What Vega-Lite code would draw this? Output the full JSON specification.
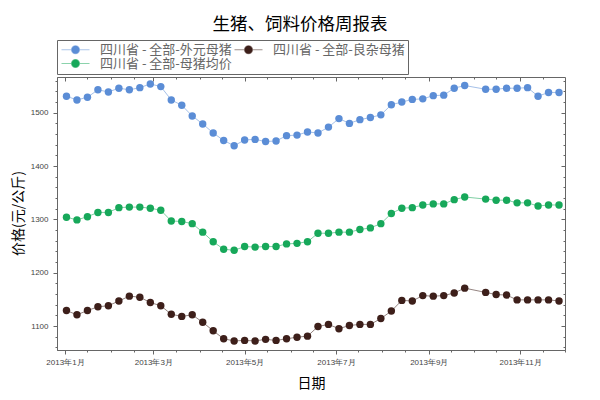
{
  "$schema": "https://vega.github.io/schema/vega-lite/v6.json",
  "width": 508,
  "height": 273,
  "autosize": {"type": "none"},
  "padding": {"left": 57, "top": 77, "right": 35, "bottom": 50},
  "background": "white",
  "title": {"text": "生猪、饲料价格周报表", "fontSize": 17.5, "font": "Noto Sans CJK SC", "fontWeight": "normal", "color": "#000", "offset": 10, "baseline": "bottom", "dx": -11, "dy": 22, "anchor": "middle"},
  "config": {
    "view": {"stroke": "#666", "strokeWidth": 1},
    "axis": {"domainColor": "#666", "tickColor": "#666", "labelColor": "#444", "labelFont": "Liberation Sans", "labelFontSize": 8, "grid": false, "labelOverlap": false, "labelBound": false, "labelFlush": false, "titleFont": "Noto Sans CJK SC", "titleFontWeight": "normal", "titleColor": "#000", "titleFontSize": 14}
  },
  "data": {"values": [
    {"date":"2013-01-02","a":1531,"b":1129,"c":1304},
    {"date":"2013-01-09","a":1524,"b":1121,"c":1299},
    {"date":"2013-01-16","a":1529,"b":1129,"c":1305},
    {"date":"2013-01-23","a":1543,"b":1136,"c":1313},
    {"date":"2013-01-30","a":1539,"b":1138,"c":1313},
    {"date":"2013-02-06","a":1546,"b":1147,"c":1322},
    {"date":"2013-02-13","a":1543,"b":1156,"c":1323},
    {"date":"2013-02-20","a":1547,"b":1154,"c":1323},
    {"date":"2013-02-27","a":1554,"b":1144,"c":1321},
    {"date":"2013-03-06","a":1549,"b":1138,"c":1317},
    {"date":"2013-03-13","a":1524,"b":1122,"c":1297},
    {"date":"2013-03-20","a":1514,"b":1118,"c":1296},
    {"date":"2013-03-27","a":1494,"b":1121,"c":1292},
    {"date":"2013-04-03","a":1479,"b":1107,"c":1276},
    {"date":"2013-04-10","a":1462,"b":1091,"c":1258},
    {"date":"2013-04-17","a":1448,"b":1076,"c":1244},
    {"date":"2013-04-24","a":1438,"b":1072,"c":1242},
    {"date":"2013-05-01","a":1449,"b":1073,"c":1249},
    {"date":"2013-05-08","a":1450,"b":1072,"c":1248},
    {"date":"2013-05-15","a":1446,"b":1075,"c":1249},
    {"date":"2013-05-22","a":1447,"b":1073,"c":1249},
    {"date":"2013-05-29","a":1457,"b":1076,"c":1254},
    {"date":"2013-06-05","a":1458,"b":1079,"c":1255},
    {"date":"2013-06-12","a":1464,"b":1081,"c":1258},
    {"date":"2013-06-19","a":1462,"b":1099,"c":1274},
    {"date":"2013-06-26","a":1473,"b":1103,"c":1274},
    {"date":"2013-07-03","a":1489,"b":1095,"c":1276},
    {"date":"2013-07-10","a":1480,"b":1101,"c":1276},
    {"date":"2013-07-17","a":1487,"b":1103,"c":1281},
    {"date":"2013-07-24","a":1491,"b":1103,"c":1284},
    {"date":"2013-07-31","a":1496,"b":1114,"c":1292},
    {"date":"2013-08-07","a":1515,"b":1128,"c":1311},
    {"date":"2013-08-14","a":1520,"b":1148,"c":1321},
    {"date":"2013-08-21","a":1525,"b":1147,"c":1322},
    {"date":"2013-08-28","a":1526,"b":1157,"c":1327},
    {"date":"2013-09-04","a":1532,"b":1156,"c":1329},
    {"date":"2013-09-11","a":1533,"b":1157,"c":1329},
    {"date":"2013-09-18","a":1546,"b":1162,"c":1337},
    {"date":"2013-09-25","a":1551,"b":1171,"c":1342},
    {"date":"2013-10-09","a":1544,"b":1163,"c":1338},
    {"date":"2013-10-16","a":1544,"b":1159,"c":1336},
    {"date":"2013-10-23","a":1546,"b":1158,"c":1336},
    {"date":"2013-10-30","a":1546,"b":1149,"c":1331},
    {"date":"2013-11-06","a":1547,"b":1149,"c":1331},
    {"date":"2013-11-13","a":1531,"b":1149,"c":1325},
    {"date":"2013-11-20","a":1538,"b":1149,"c":1327},
    {"date":"2013-11-27","a":1538,"b":1147,"c":1327}
  ]},
  "transform": [
    {"fold": ["a", "b", "c"], "as": ["key", "price"]},
    {"lookup": "key", "from": {"data": {"values": [
      {"key": "a", "series": "四川省 - 全部-外元母猪"},
      {"key": "b", "series": "四川省 - 全部-良杂母猪"},
      {"key": "c", "series": "四川省 - 全部-母猪均价"}
    ]}, "key": "key", "fields": ["series"]}}
  ],
  "encoding": {
    "color": {
      "field": "series", "type": "nominal",
      "scale": {"domain": ["四川省 - 全部-外元母猪", "四川省 - 全部-良杂母猪", "四川省 - 全部-母猪均价"], "range": ["#5b8dd6", "#3d1f1a", "#17a85a"]},
      "legend": {
        "title": null, "orient": "none", "legendX": 0, "legendY": -37,
        "direction": "horizontal", "columns": 2, "columnPadding": 0, "rowPadding": -5,
        "padding": 3, "strokeColor": "#666", "fillColor": "white",
        "symbolSize": 100, "symbolOpacity": 1,
        "symbolType": "M-2.8,0L2.8,0M-0.8,0A0.8,0.8 0 1,0 0.8,0A0.8,0.8 0 1,0 -0.8,0Z",
        "symbolOffset": 9,
        "labelFont": "Noto Sans CJK SC", "labelFontSize": 13, "labelColor": "#666", "labelOffset": 18, "labelLimit": 0,
        "encode": {"symbols": {"update": {
          "fill": {"scale": "color", "field": "value"},
          "stroke": {"scale": "color", "field": "value"},
          "strokeWidth": {"value": 1.2},
          "strokeOpacity": {"value": 0.5},
          "fillOpacity": {"value": 1},
          "opacity": {"value": 1}
        }}}
      }
    }
  },
  "layer": [
    {
      "mark": {"type": "line", "strokeWidth": 1, "opacity": 0.55},
      "encoding": {
        "x": {"field": "date", "type": "temporal",
          "scale": {"type": "utc", "domain": [{"year": 2012, "month": 12, "date": 26, "hours": 16, "utc": true}, {"year": 2013, "month": 12, "date": 1, "utc": true}]},
          "axis": {"orient": "bottom", "title": "日期", "titleX": 254, "titleY": 33, "titleBaseline": "middle", "titleAnchor": null, "titleAlign": "center",
            "values": [
              {"year":2013,"month":1,"date":1,"utc":true},{"year":2013,"month":1,"date":16,"utc":true},
              {"year":2013,"month":2,"date":1,"utc":true},{"year":2013,"month":2,"date":16,"utc":true},
              {"year":2013,"month":3,"date":1,"utc":true},{"year":2013,"month":3,"date":16,"utc":true},
              {"year":2013,"month":4,"date":1,"utc":true},{"year":2013,"month":4,"date":16,"utc":true},
              {"year":2013,"month":5,"date":1,"utc":true},{"year":2013,"month":5,"date":16,"utc":true},
              {"year":2013,"month":6,"date":1,"utc":true},{"year":2013,"month":6,"date":16,"utc":true},
              {"year":2013,"month":7,"date":1,"utc":true},{"year":2013,"month":7,"date":16,"utc":true},
              {"year":2013,"month":8,"date":1,"utc":true},{"year":2013,"month":8,"date":16,"utc":true},
              {"year":2013,"month":9,"date":1,"utc":true},{"year":2013,"month":9,"date":16,"utc":true},
              {"year":2013,"month":10,"date":1,"utc":true},{"year":2013,"month":10,"date":16,"utc":true},
              {"year":2013,"month":11,"date":1,"utc":true},{"year":2013,"month":11,"date":16,"utc":true},
              {"year":2013,"month":12,"date":1,"utc":true}
            ],
            "labelExpr": "utcdate(datum.value) === 1 && utcmonth(datum.value) % 2 === 0 && utcmonth(datum.value) < 11 ? utcFormat(datum.value, '%Y') + '年' + (utcmonth(datum.value) + 1) + '月' : ''",
            "tickSize": {"condition": {"test": "utcdate(datum.value) === 1 && utcmonth(datum.value) % 2 === 0 && utcmonth(datum.value) < 11", "value": 4}, "value": 2},
            "labelPadding": 4
          }
        },
        "y": {"field": "price", "type": "quantitative",
          "scale": {"domain": [1055, 1567], "nice": false, "zero": false},
          "axis": {"orient": "left", "title": "价格(元/公斤)", "titleX": -38.5, "titleY": 136, "titleBaseline": "middle", "titleAlign": "center", "titleAngle": -90, "titleAnchor": null,
            "values": [1060,1080,1100,1120,1140,1160,1180,1200,1220,1240,1260,1280,1300,1320,1340,1360,1380,1400,1420,1440,1460,1480,1500,1520,1540,1560],
            "format": "d",
            "labelExpr": "datum.value % 100 === 0 ? datum.label : ''",
            "tickSize": {"condition": {"test": "datum.value % 100 === 0", "value": 4}, "value": 2},
            "labelPadding": 5
          }
        }
      }
    },
    {
      "mark": {"type": "point", "filled": true, "size": 55, "opacity": 1},
      "encoding": {
        "x": {"field": "date", "type": "temporal",
          "axis": {"orient": "top", "title": null, "labels": false, "domain": false,
            "values": [
              {"year":2013,"month":1,"date":1,"utc":true},{"year":2013,"month":1,"date":16,"utc":true},
              {"year":2013,"month":2,"date":1,"utc":true},{"year":2013,"month":2,"date":16,"utc":true},
              {"year":2013,"month":3,"date":1,"utc":true},{"year":2013,"month":3,"date":16,"utc":true},
              {"year":2013,"month":4,"date":1,"utc":true},{"year":2013,"month":4,"date":16,"utc":true},
              {"year":2013,"month":5,"date":1,"utc":true},{"year":2013,"month":5,"date":16,"utc":true},
              {"year":2013,"month":6,"date":1,"utc":true},{"year":2013,"month":6,"date":16,"utc":true},
              {"year":2013,"month":7,"date":1,"utc":true},{"year":2013,"month":7,"date":16,"utc":true},
              {"year":2013,"month":8,"date":1,"utc":true},{"year":2013,"month":8,"date":16,"utc":true},
              {"year":2013,"month":9,"date":1,"utc":true},{"year":2013,"month":9,"date":16,"utc":true},
              {"year":2013,"month":10,"date":1,"utc":true},{"year":2013,"month":10,"date":16,"utc":true},
              {"year":2013,"month":11,"date":1,"utc":true},{"year":2013,"month":11,"date":16,"utc":true}
            ],
            "tickSize": {"condition": {"test": "utcdate(datum.value) === 1 && utcmonth(datum.value) % 2 === 0", "value": -4}, "value": -2}
          }
        },
        "y": {"field": "price", "type": "quantitative",
          "axis": {"orient": "right", "title": null, "labels": false, "domain": false,
            "values": [1060,1080,1100,1120,1140,1160,1180,1200,1220,1240,1260,1280,1300,1320,1340,1360,1380,1400,1420,1440,1460,1480,1500,1520,1540,1560],
            "tickSize": {"condition": {"test": "datum.value % 100 === 0", "value": -4}, "value": -2}
          }
        }
      }
    }
  ],
  "resolve": {"axis": {"x": "independent", "y": "independent"}}
}
